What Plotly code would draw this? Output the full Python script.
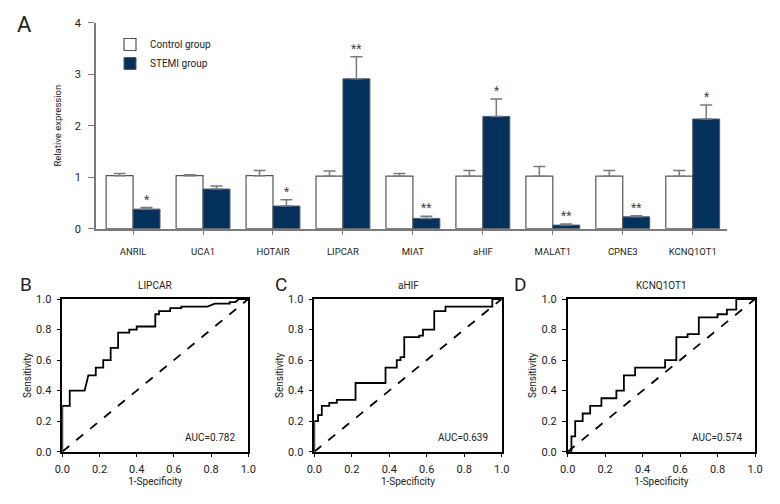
import plotly.graph_objects as go

# ---------------- data ----------------
genes = ["ANRIL", "UCA1", "HOTAIR", "LIPCAR", "MIAT", "aHIF", "MALAT1", "CPNE3", "KCNQ1OT1"]
control_mean = [1.03, 1.03, 1.03, 1.02, 1.02, 1.02, 1.02, 1.02, 1.02]
control_err = [0.04, 0.02, 0.10, 0.10, 0.05, 0.11, 0.19, 0.11, 0.11]
stemi_mean = [0.38, 0.77, 0.44, 2.91, 0.20, 2.18, 0.07, 0.23, 2.13]
stemi_err = [0.03, 0.06, 0.12, 0.43, 0.04, 0.34, 0.02, 0.02, 0.27]
stars = ["*", "", "*", "**", "**", "*", "**", "**", "*"]

roc_names = ["LIPCAR", "aHIF", "KCNQ1OT1"]
roc_letters = ["B", "C", "D"]
roc_auc = ["0.782", "0.639", "0.574"]
lipcar_fpr = [0, 0, 0.04, 0.04, 0.12, 0.14, 0.18, 0.18, 0.22, 0.22, 0.26, 0.26, 0.30, 0.30, 0.36, 0.36,
              0.40, 0.40, 0.50, 0.50, 0.52, 0.52, 0.58, 0.58, 0.64, 0.64, 0.78, 0.82, 0.90, 0.90, 0.93, 0.95, 1.0]
lipcar_tpr = [0, 0.30, 0.30, 0.40, 0.40, 0.50, 0.50, 0.55, 0.55, 0.60, 0.60, 0.68, 0.68, 0.78, 0.78, 0.80,
              0.80, 0.82, 0.82, 0.90, 0.90, 0.92, 0.92, 0.94, 0.94, 0.95, 0.95, 0.97, 0.97, 0.98, 0.98, 1.0, 1.0]
ahif_fpr = [0, 0, 0.02, 0.02, 0.04, 0.04, 0.08, 0.08, 0.12, 0.12, 0.22, 0.22, 0.38, 0.38, 0.44, 0.44,
            0.46, 0.46, 0.48, 0.48, 0.56, 0.56, 0.58, 0.58, 0.64, 0.64, 0.70, 0.70, 0.95, 0.95, 1.0]
ahif_tpr = [0, 0.20, 0.20, 0.24, 0.24, 0.30, 0.30, 0.32, 0.32, 0.34, 0.34, 0.45, 0.45, 0.55, 0.55, 0.60,
            0.60, 0.62, 0.62, 0.75, 0.75, 0.76, 0.76, 0.80, 0.80, 0.92, 0.92, 0.95, 0.95, 1.0, 1.0]
kcnq_fpr = [0, 0.02, 0.02, 0.04, 0.04, 0.08, 0.08, 0.12, 0.12, 0.18, 0.18, 0.26, 0.26, 0.30, 0.30, 0.36,
            0.36, 0.52, 0.52, 0.58, 0.58, 0.64, 0.64, 0.70, 0.70, 0.80, 0.80, 0.85, 0.85, 0.90, 0.90, 1.0]
kcnq_tpr = [0, 0.0, 0.10, 0.10, 0.20, 0.20, 0.25, 0.25, 0.30, 0.30, 0.35, 0.35, 0.40, 0.40, 0.50, 0.50,
            0.55, 0.55, 0.60, 0.60, 0.75, 0.75, 0.77, 0.77, 0.88, 0.88, 0.90, 0.90, 0.93, 0.93, 1.0, 1.0]
roc_fpr = [lipcar_fpr, ahif_fpr, kcnq_fpr]
roc_tpr = [lipcar_tpr, ahif_tpr, kcnq_tpr]

# ---------------- style ----------------
FONT = "Noto Sans Condensed, Roboto, Liberation Sans, sans-serif"
NAVY = "#04305c"
GREY = "#7a7a7a"
TXT = "#222222"
BARGAP = 0.23

fig = go.Figure()
fig.add_trace(go.Bar(
    x=genes, y=control_mean, name="Control group",
    marker=dict(color="white", line=dict(color="#555555", width=1.2)),
    error_y=dict(type="data", array=control_err, arrayminus=[0] * len(genes), symmetric=False,
                 color=GREY, thickness=1.5, width=6),
    xaxis="x", yaxis="y"))
fig.add_trace(go.Bar(
    x=genes, y=stemi_mean, name="STEMI group",
    marker=dict(color=NAVY, line=dict(color="#5a5a5a", width=1.0)),
    error_y=dict(type="data", array=stemi_err, arrayminus=[0] * len(genes), symmetric=False,
                 color=GREY, thickness=1.5, width=6),
    xaxis="x", yaxis="y"))

annotations = []
half = (1 - BARGAP) / 4.0
for i, s in enumerate(stars):
    if s:
        annotations.append(dict(x=i + half, y=stemi_mean[i] + stemi_err[i], xref="x", yref="y",
                                text=s, showarrow=False, yanchor="bottom", yshift=-1,
                                font=dict(family=FONT, size=12, color="#444444")))

annotations.append(dict(x=25 / 780, y=1 - 24 / 504, xref="paper", yref="paper", text="A",
                        showarrow=False, xanchor="center", yanchor="middle",
                        font=dict(family=FONT, size=22, color=TXT)))

# ROC panels
doms = [(62.3 / 780, 248.3 / 780), (314.3 / 780, 501.7 / 780), (567.7 / 780, 755 / 780)]
letter_x = [26, 281, 520]
ydom = (1 - 451.7 / 504, 1 - 299 / 504)
axis_common = dict(range=[0, 1], showline=True, linecolor="black", linewidth=1.5, mirror=True,
                   ticks="outside", ticklen=4, tickwidth=1.2, tickcolor="black",
                   tickvals=[0, 0.2, 0.4, 0.6, 0.8, 1.0], tickformat=".1f",
                   showgrid=False, zeroline=False, automargin=False,
                   tickfont=dict(family=FONT, size=11, color=TXT))
layout_axes = {}
for k in range(3):
    xa = "x%d" % (k + 2)
    ya = "y%d" % (k + 2)
    fig.add_trace(go.Scatter(x=[0, 1], y=[0, 1], mode="lines", showlegend=False,
                             line=dict(color="black", width=1.8, dash="dash"),
                             xaxis=xa, yaxis=ya, hoverinfo="skip"))
    fig.add_trace(go.Scatter(x=roc_fpr[k], y=roc_tpr[k], mode="lines", showlegend=False,
                             line=dict(color="black", width=1.8),
                             xaxis=xa, yaxis=ya, cliponaxis=False))
    layout_axes["xaxis%d" % (k + 2)] = dict(axis_common, domain=list(doms[k]), anchor=ya,
                                            ticklabelstandoff=2,
                                            title=dict(text="1-Specificity", standoff=2,
                                                       font=dict(family=FONT, size=10, color=TXT)))
    layout_axes["yaxis%d" % (k + 2)] = dict(axis_common, domain=list(ydom), anchor=xa,
                                            ticklabelstandoff=3,
                                            title=dict(text="Sensitivity", standoff=3,
                                                       font=dict(family=FONT, size=10, color=TXT)))
    annotations.append(dict(x=0.5, y=1.0, xref="x%d domain" % (k + 2), yref="y%d domain" % (k + 2),
                            text=roc_names[k], showarrow=False, yanchor="bottom", yshift=6,
                            font=dict(family=FONT, size=10, color=TXT)))
    annotations.append(dict(x=0.94, y=0.09, xref=xa, yref=ya, text="AUC=" + roc_auc[k],
                            showarrow=False, xanchor="right", yanchor="middle",
                            font=dict(family=FONT, size=10, color=TXT)))
    annotations.append(dict(x=letter_x[k] / 780, y=1 - 284 / 504, xref="paper", yref="paper",
                            text=roc_letters[k], showarrow=False, xanchor="center", yanchor="middle",
                            font=dict(family=FONT, size=19, color=TXT)))

fig.update_layout(
    width=780, height=504, margin=dict(l=0, r=0, t=0, b=0, autoexpand=False),
    paper_bgcolor="white", plot_bgcolor="white",
    barmode="group", bargap=BARGAP, bargroupgap=0,
    font=dict(family=FONT, size=10, color=TXT),
    xaxis=dict(domain=[96 / 780, 727 / 780], range=[-0.53, 8.49], anchor="y", automargin=False,
               showline=True, linecolor=GREY, linewidth=1.5, ticks="outside", ticklen=5,
               tickcolor=GREY, tickwidth=1.2, ticklabelstandoff=8,
               tickfont=dict(family=FONT, size=9.5, color=TXT), showgrid=False, zeroline=False),
    yaxis=dict(domain=[1 - 228.7 / 504, 1 - 22.7 / 504], range=[0, 4], anchor="x", automargin=False,
               showline=True, linecolor=GREY, linewidth=1.5, ticks="outside", ticklen=6,
               tickcolor=GREY, tickwidth=1.2, tickvals=[0, 1, 2, 3, 4], ticklabelstandoff=5,
               tickfont=dict(family=FONT, size=11, color=TXT), showgrid=False, zeroline=False,
               title=dict(text="Relative expression", standoff=12,
                          font=dict(family=FONT, size=9.5, color=TXT))),
    legend=dict(x=110 / 780, y=1 - 30 / 504, xanchor="left", yanchor="top",
                bgcolor="rgba(0,0,0,0)", font=dict(family=FONT, size=10, color=TXT),
                itemwidth=30, tracegroupgap=0),
    annotations=annotations,
    showlegend=True,
    **layout_axes,
)

fig.write_html("out.html", config={"displayModeBar": False},
               post_script="document.body.style.margin='0';")
